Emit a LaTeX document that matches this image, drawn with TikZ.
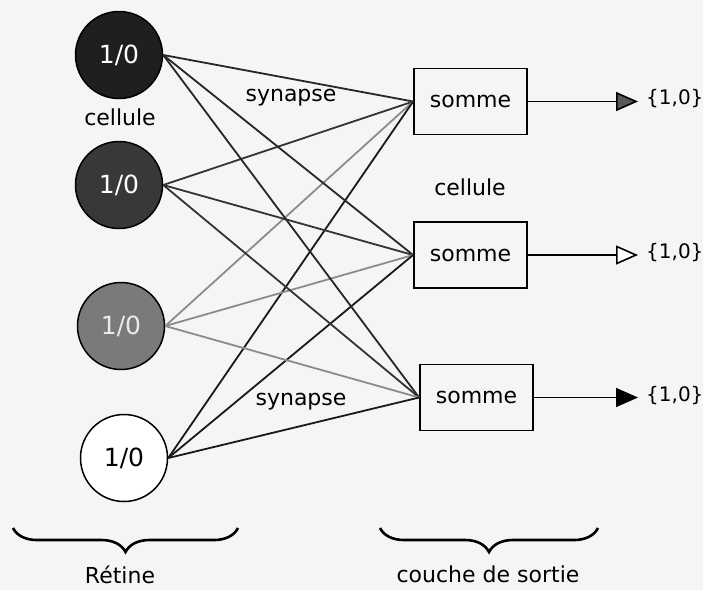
\documentclass[tikz,border=0pt]{standalone}
\usepackage{fontspec}
\setmainfont{DejaVu Sans}
\usetikzlibrary{arrows.meta,decorations.pathreplacing}
\begin{document}
\begin{tikzpicture}[x=1pt,y=-1pt,
  lbl/.style={font=\fontsize{22}{24}\selectfont, inner sep=0pt},
  cell/.style={circle, draw=black, line width=1.5pt, minimum size=87pt, inner sep=0pt,
               font=\fontsize{25}{27}\selectfont},
  sumbox/.style={draw=black, line width=1.8pt, minimum width=113pt, minimum height=66pt,
                 inner sep=0pt, font=\fontsize{22}{24}\selectfont},
  syn/.style={line width=1.8pt},
  outarrow/.style={line width=1.8pt,
                   -{Triangle[length=22pt,width=19pt,line width=1.6pt,fill=#1]}},
  outval/.style={font=\fontsize{20}{22}\selectfont, anchor=west, inner sep=0pt},
  brace/.style={decorate, line width=2.6pt,
                decoration={brace, mirror, amplitude=24pt, aspect=0.5}}
]
% background
\fill[black!4] (0,0) rectangle (703,590);
\useasboundingbox (0,0) rectangle (703,590);

% retina cells
\node[cell, fill=black!88, text=white] (c1) at (119,55) {1/0};
\node[cell, fill=black!78, text=white] (c2) at (119,185) {1/0};
\node[cell, fill=black!52, text=black!8] (c3) at (121,326) {1/0};
\node[cell, fill=white, text=black] (c4) at (124,458) {1/0};
\node[lbl] (cl1) at (120,117) {cellule};

% output layer
\node[sumbox] (s1) at (470.5,101.5) {somme};
\node[sumbox] (s2) at (470.5,255) {somme};
\node[sumbox] (s3) at (476.5,397.5) {somme};
\node[lbl] (cl2) at (470,187) {cellule};

% synapses
\foreach \s in {s1,s2,s3}{
  \draw[syn, black!85] (c1.east) -- (\s.west);
  \draw[syn, black!80] (c2.east) -- (\s.west);
  \draw[syn, black!45] (c3.east) -- (\s.west);
  \draw[syn, black!90] (c4.east) -- (\s.west);
}
\node[lbl, fill=black!4, inner sep=1pt] (sy1) at (291,98) {synapse};
\node[lbl, fill=black!4, inner sep=1pt] (sy2) at (301,402) {synapse};

% outputs
\coordinate (t1) at (638,101.5);
\coordinate (t2) at (638,255);
\coordinate (t3) at (638,397.5);
\draw[outarrow=black!65] (s1.east) -- (t1);
\draw[outarrow=white] (s2.east) -- (t2);
\draw[outarrow=black] (s3.east) -- (t3);
\node[outval] (o1) at (646,99) {\{1,0\}};
\node[outval] (o2) at (646,253) {\{1,0\}};
\node[outval] (o3) at (646,395.5) {\{1,0\}};

% groups
\coordinate (r1) at (13,528);
\coordinate (r2) at (238,528);
\draw[brace] (r1) -- (r2);
\node[lbl, anchor=base] (ret) at (120,583) {Rétine};
\coordinate (q1) at (380,528);
\coordinate (q2) at (598,528);
\draw[brace] (q1) -- (q2);
\node[lbl, anchor=base] (cds) at (488,582) {couche de sortie};
\end{tikzpicture}
\end{document}
